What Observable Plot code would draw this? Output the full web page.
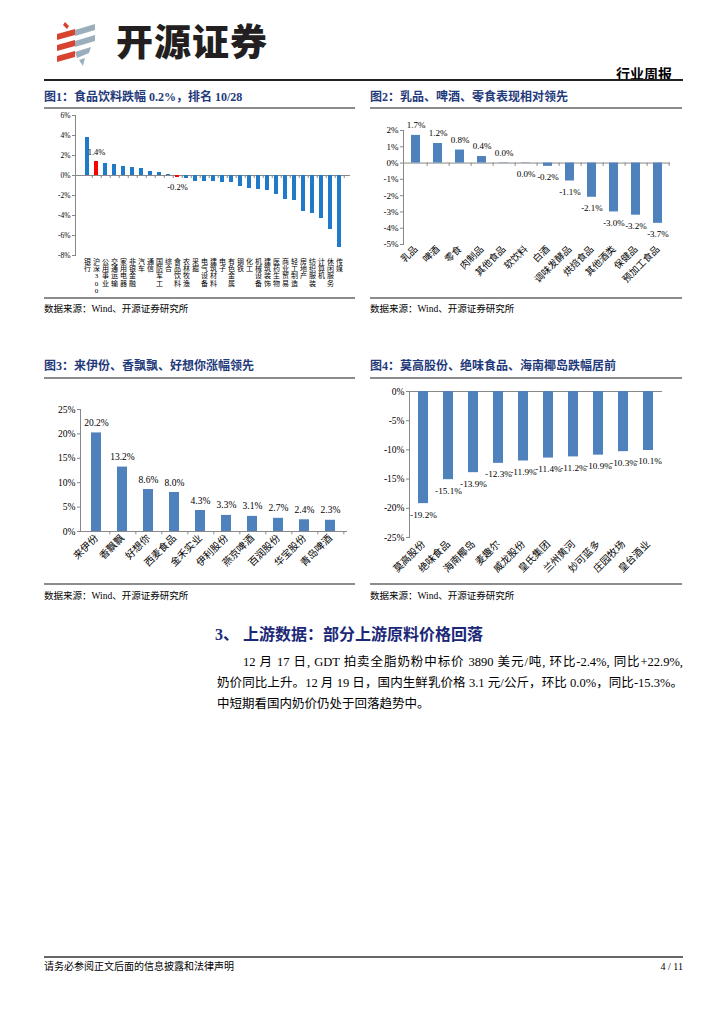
<!DOCTYPE html>
<html><head><meta charset="utf-8">
<script src="https://cdn.jsdelivr.net/npm/d3@7"></script>
<script src="https://cdn.jsdelivr.net/npm/@observablehq/plot@0.6"></script>
<style>
body{margin:0;background:#fff;}
#page{position:relative;width:724px;height:1024px;overflow:hidden;font-family:"Liberation Serif","Noto Sans CJK SC",serif;color:#000;background:#fff;}
.abs{position:absolute;white-space:nowrap;}
.ftitle{font-size:12px;line-height:14px;font-weight:bold;color:#1F3A7A;}
.gline{position:absolute;height:2px;background:#8c8c8c;}
.src{font-size:9.5px;line-height:12px;}
.chart{position:absolute;}
.para{position:absolute;left:217px;width:466px;font-size:12.5px;line-height:21px;white-space:nowrap;}
.just{text-align:justify;text-align-last:justify;white-space:normal;}
</style></head><body><div id="page">
<svg class="abs" style="left:55px;top:20px" width="45" height="48" viewBox="0 0 45 48">
  <polygon points="10,2 14,6 12,9 8,5" fill="#D7432F"/>
  <polygon points="2,14 20,9 20,15 2,20" fill="#D7432F"/>
  <polygon points="2,25 20,20 20,26 2,31" fill="#D7432F"/>
  <polygon points="2,36 20,31 20,37 2,42" fill="#D7432F"/>
  <polygon points="20,10 40,4 40,10 20,16" fill="#9AAFBB"/>
  <polygon points="20,21 40,15 40,21 20,27" fill="#9AAFBB"/>
  <polygon points="20,32 36,27 34,33 22,38" fill="#9AAFBB"/>
  <polygon points="24,40 30,38 28,46" fill="#9AAFBB"/>
</svg>
<div class="abs" style="left:116px;top:20px;font-family:'Noto Sans CJK SC';font-weight:900;font-size:37px;line-height:40px;color:#231f20;letter-spacing:1px">开源证券</div>
<div class="abs" style="left:592px;top:65px;width:80px;text-align:right;font-family:'Noto Sans CJK SC';font-weight:bold;font-size:14px;line-height:16px">行业周报</div>
<div class="abs" style="left:44px;top:79px;width:639px;height:2px;background:#222"></div>

<div class="abs ftitle" style="left:44px;top:90px">图1：食品饮料跌幅 0.2%，排名 10/28</div>
<div class="abs ftitle" style="left:370px;top:90px">图2：乳品、啤酒、零食表现相对领先</div>
<div class="gline" style="left:44px;top:107px;width:311px"></div>
<div class="gline" style="left:370px;top:107px;width:312px"></div>
<div id="c1" class="chart" style="left:44px;top:108px"></div>
<div id="c2" class="chart" style="left:370px;top:108px"></div>
<div class="gline" style="left:44px;top:297px;width:311px"></div>
<div class="gline" style="left:370px;top:297px;width:312px"></div>
<div class="abs src" style="left:44px;top:303px">数据来源：Wind、开源证券研究所</div>
<div class="abs src" style="left:370px;top:303px">数据来源：Wind、开源证券研究所</div>

<div class="abs ftitle" style="left:44px;top:359px">图3：来伊份、香飘飘、好想你涨幅领先</div>
<div class="abs ftitle" style="left:370px;top:359px">图4：莫高股份、绝味食品、海南椰岛跌幅居前</div>
<div class="gline" style="left:44px;top:377px;width:311px"></div>
<div class="gline" style="left:370px;top:377px;width:312px"></div>
<div id="c3" class="chart" style="left:44px;top:378px"></div>
<div id="c4" class="chart" style="left:370px;top:378px"></div>
<div class="gline" style="left:44px;top:583px;width:311px"></div>
<div class="gline" style="left:370px;top:583px;width:312px"></div>
<div class="abs src" style="left:44px;top:590px">数据来源：Wind、开源证券研究所</div>
<div class="abs src" style="left:370px;top:590px">数据来源：Wind、开源证券研究所</div>

<div class="abs" style="left:215px;top:625px;font-size:16px;line-height:20px;font-weight:bold;color:#1B2878">3、 上游数据：部分上游原料价格回落</div>
<div class="para just" style="top:652px;padding-left:26px;width:440px">12 月 17 日, GDT 拍卖全脂奶粉中标价 3890 美元/吨, 环比-2.4%, 同比+22.9%,</div>
<div class="para just" style="top:673px">奶价同比上升。12 月 19 日，国内生鲜乳价格 3.1 元/公斤，环比 0.0%，同比-15.3%。</div>
<div class="para" style="top:694px">中短期看国内奶价仍处于回落趋势中。</div>

<div class="abs" style="left:44px;top:956px;width:639px;height:2px;background:#666"></div>
<div class="abs" style="left:44px;top:960px;font-size:10px;line-height:13px">请务必参阅正文后面的信息披露和法律声明</div>
<div class="abs" style="left:633px;top:960px;width:50px;text-align:right;font-size:10px;line-height:13px">4 / 11</div>
</div>
<script>
// ---- Data ----
const c1Cats = ["银行","沪深300","公用事业","交通运输","家用电器","非银金融","汽车","通信","国防军工","综合","食品饮料","农林牧渔","采掘","电气设备","建筑材料","电子","有色金属","钢铁","化工","机械设备","建筑装饰","医药生物","商业贸易","轻工制造","房地产","纺织服装","计算机","休闲服务","传媒"];
const c1Vals = [3.8,1.4,1.2,1.1,0.9,0.8,0.7,0.4,0.3,0.1,-0.2,-0.3,-0.6,-0.6,-0.6,-0.7,-0.7,-1.1,-1.3,-1.4,-1.5,-1.9,-2.4,-2.5,-3.6,-3.8,-4.3,-5.4,-7.2];
const c1Red = ["沪深300","食品饮料"];
const c1Labeled = ["沪深300","食品饮料"];
const c1Ticks = [-8,-6,-4,-2,0,2,4,6];

const c2Cats = ["乳品","啤酒","零食","肉制品","其他食品","软饮料","白酒","调味发酵品","烘焙食品","其他酒类","保健品","预加工食品"];
const c2Vals = [1.7,1.2,0.8,0.4,0.02,-0.02,-0.2,-1.1,-2.1,-3.0,-3.2,-3.7];
const c2Ticks = [-5,-4,-3,-2,-1,0,1,2];

const c3Cats = ["来伊份","香飘飘","好想你","西麦食品","金禾实业","伊利股份","燕京啤酒","百润股份","华宝股份","青岛啤酒"];
const c3Vals = [20.2,13.2,8.6,8.0,4.3,3.3,3.1,2.7,2.4,2.3];
const c3Ticks = [0,5,10,15,20,25];

const c4Cats = ["莫高股份","绝味食品","海南椰岛","麦趣尔","威龙股份","皇氏集团","兰州黄河","妙可蓝多","庄园牧场","皇台酒业"];
const c4Vals = [-19.2,-15.1,-13.9,-12.3,-11.9,-11.4,-11.2,-10.9,-10.3,-10.1];
const c4Ticks = [-25,-20,-15,-10,-5,0];

// ---- Helpers ----
const FONT = "'Liberation Serif','Noto Sans CJK SC',serif";
const AX = "#888888";
const BLUE = "#4F81BD";
const fmt = v => (Math.abs(v) < 0.05 ? "0.0" : v.toFixed(1)) + "%";
const rows = (cats, vals) => cats.map((c, i) => ({cat: c, val: vals[i]}));

function barChart(o) {
  const data = rows(o.cats, o.vals);
  const step = (o.width - o.ml - o.mr) / o.cats.length;
  const marks = [
    Plot.ruleY([0], {stroke: AX, strokeWidth: 1}),
    Plot.barY(data, {x: "cat", y: "val", fill: o.fill || BLUE}),
    Plot.frame({anchor: "left", stroke: AX}),
    Plot.axisY({ticks: o.ticks, tickFormat: d => d + "%", tickSize: 3, tickPadding: 2, fontSize: o.yFont, stroke: AX, label: null}),
  ];
  if (o.bticks) marks.push(Plot.ruleX(o.cats, {x: d => d, y1: 0, y2: o.bticks, dx: step / 2, stroke: AX}));
  if (o.xaxis) marks.push(o.xaxis);
  const lab = o.labelFilter ? data.filter(o.labelFilter) : data;
  marks.push(Plot.text(lab.filter(d => d.val >= 0), {x: "cat", y: "val", text: d => fmt(d.val), dy: -o.ldy, fontSize: o.lFont}));
  marks.push(Plot.text(lab.filter(d => d.val < 0), {x: "cat", y: "val", text: d => fmt(d.val), dy: o.ldy + 1, fontSize: o.lFont}));
  return Plot.plot({
    width: o.width, height: o.height,
    marginTop: o.mt, marginBottom: o.mb, marginLeft: o.ml, marginRight: o.mr,
    style: {fontFamily: FONT, fontSize: "9px", background: "transparent", color: "#000", overflow: "visible"},
    x: {type: "band", domain: o.cats, paddingInner: o.pad, paddingOuter: o.pad / 2, axis: null},
    y: {domain: o.ydom},
    marks
  });
}

// Chart 1
document.getElementById("c1").append(barChart({
  cats: c1Cats, vals: c1Vals, ticks: c1Ticks, ydom: [-8, 6],
  width: 312, height: 190, mt: 7, mb: 43, ml: 31, mr: 6, pad: 0.56,
  fill: d => c1Red.includes(d.cat) ? "#FF0000" : "#1F7BC9",
  yFont: 7.5, lFont: 8.5, ldy: 9, bticks: -0.3,
  labelFilter: d => c1Labeled.includes(d.cat),
  xaxis: Plot.axisX({anchor: "bottom", tickSize: 0, tickPadding: 3, tickFormat: d => [...d].join("\n"), lineHeight: 1.05, fontSize: 7, label: null})
}));

// Chart 2
document.getElementById("c2").append(barChart({
  cats: c2Cats, vals: c2Vals, ticks: c2Ticks, ydom: [-5, 2],
  width: 312, height: 190, mt: 22, mb: 54, ml: 33, mr: 12, pad: 0.6,
  yFont: 9, lFont: 9, ldy: 10, bticks: -0.2,
  xaxis: Plot.axisX({anchor: "bottom", tickSize: 0, tickPadding: 3, tickRotate: -45, fontSize: 9.5, label: null})
}));

// Chart 3
document.getElementById("c3").append(barChart({
  cats: c3Cats, vals: c3Vals, ticks: c3Ticks, ydom: [0, 25],
  width: 312, height: 206, mt: 31, mb: 53, ml: 36, mr: 9, pad: 0.6,
  yFont: 9.5, lFont: 9.5, ldy: 10, bticks: -0.7,
  xaxis: Plot.axisX({anchor: "bottom", tickSize: 0, tickPadding: 5, tickRotate: -45, fontSize: 10, label: null})
}));

// Chart 4
document.getElementById("c4").append(barChart({
  cats: c4Cats, vals: c4Vals, ticks: c4Ticks, ydom: [-25, 0],
  width: 312, height: 206, mt: 13, mb: 47, ml: 39, mr: 20, pad: 0.6,
  yFont: 9.5, lFont: 9.2, ldy: 10,
  xaxis: Plot.axisX({anchor: "bottom", tickSize: 0, tickPadding: 5, tickRotate: -45, fontSize: 10, label: null})
}));
</script>
</body></html>
